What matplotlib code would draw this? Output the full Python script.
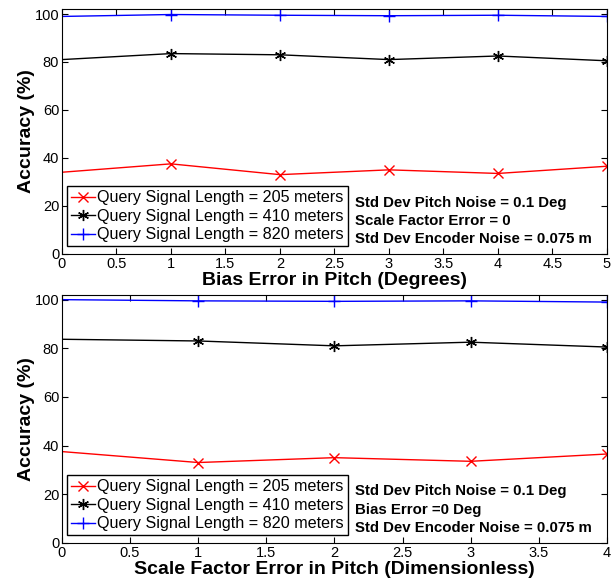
import matplotlib.pyplot as plt
import numpy as np

plt.rcParams['font.family'] = ['Liberation Sans', 'DejaVu Sans']

# top panel: bias error in pitch
bias_x = [0, 1, 2, 3, 4, 5]
bias_205 = [34.0, 37.5, 33.0, 35.0, 33.5, 36.5]
bias_410 = [81.0, 83.5, 83.0, 81.0, 82.5, 80.5]
bias_820 = [99.0, 99.8, 99.5, 99.3, 99.5, 99.0]

# bottom panel: scale factor error in pitch
scale_x = [0, 1, 2, 3, 4]
scale_205 = [37.5, 33.0, 35.0, 33.5, 36.5]
scale_410 = [83.7, 83.0, 81.0, 82.5, 80.5]
scale_820 = [100.0, 99.5, 99.3, 99.5, 99.0]

labels = ['Query Signal Length = 205 meters',
          'Query Signal Length = 410 meters',
          'Query Signal Length = 820 meters']
notes_top = ['Std Dev Pitch Noise = 0.1 Deg', 'Scale Factor Error = 0',
             'Std Dev Encoder Noise = 0.075 m']
notes_bot = ['Std Dev Pitch Noise = 0.1 Deg', 'Bias Error =0 Deg',
             'Std Dev Encoder Noise = 0.075 m']


def draw_panel(ax, x, ys, xlabel, notes, xstep):
    styles = [('red', 'x', 7), ('black', (6, 2, 0), 8), ('blue', '+', 8)]
    for y, (c, m, ms), lab in zip(ys, styles, labels):
        ax.plot(x, y, color=c, marker=m, markersize=ms, lw=1.0, mew=1.0,
                markevery=slice(1, None), label=lab)
    ax.set_xlim(x[0], x[-1])
    ax.set_ylim(0, 102)
    ticks = np.arange(x[0], x[-1] + 0.01, xstep)
    ax.set_xticks(ticks)
    ax.set_xticklabels(['%g' % v for v in ticks])
    ax.set_yticks([0, 20, 40, 60, 80, 100])
    ax.tick_params(direction='in', top=True, right=True, labelsize=10.5,
                   length=4, pad=2)
    ax.set_xlabel(xlabel, fontsize=14, fontweight='bold', labelpad=1)
    ax.set_ylabel('Accuracy (%)', fontsize=14, fontweight='bold', labelpad=0)
    leg = ax.legend(loc='lower left', bbox_to_anchor=(0.0, 0.01),
                    fontsize=11.6, handlelength=1.5, handletextpad=0.12,
                    labelspacing=0.22, borderpad=0.25, fancybox=False,
                    framealpha=1, borderaxespad=0.3)
    leg.get_frame().set_edgecolor('black')
    leg.get_frame().set_linewidth(1.0)
    for i, t in enumerate(notes):
        ax.text(0.538, 0.208 - i * 0.074, t, transform=ax.transAxes,
                fontsize=10.8, fontweight='bold', va='center', ha='left')


fig = plt.figure(figsize=(6.13, 5.78), dpi=100)
ax1 = fig.add_axes([0.101, 0.561, 0.889, 0.423])
ax2 = fig.add_axes([0.101, 0.061, 0.889, 0.429])

draw_panel(ax1, bias_x, [bias_205, bias_410, bias_820],
           'Bias Error in Pitch (Degrees)', notes_top, 0.5)
draw_panel(ax2, scale_x, [scale_205, scale_410, scale_820],
           'Scale Factor Error in Pitch (Dimensionless)', notes_bot, 0.5)

fig.savefig('out.png', dpi=100)
